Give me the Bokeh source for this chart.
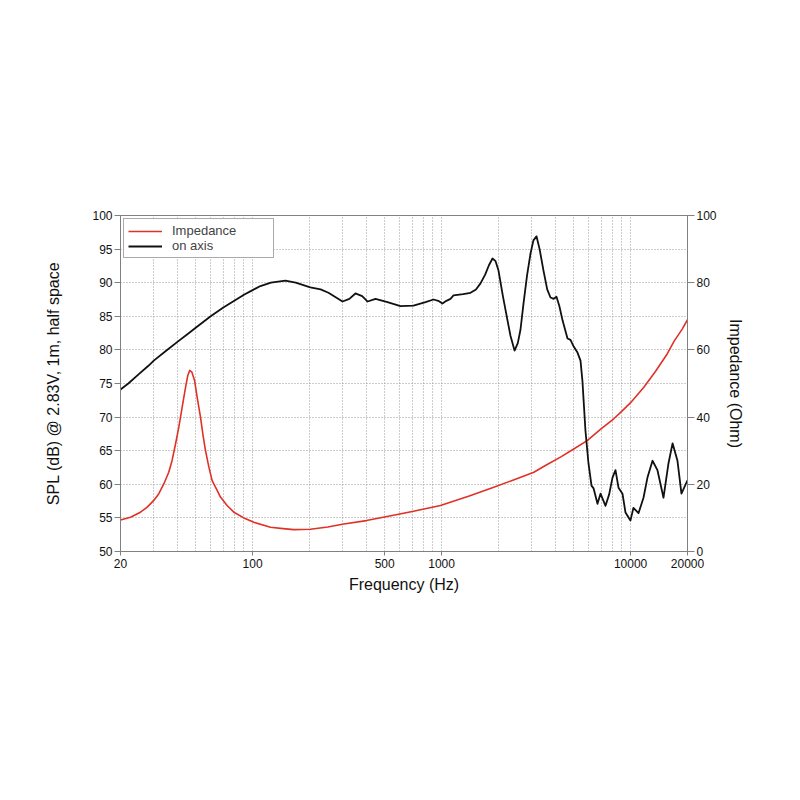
from bokeh.plotting import figure
from bokeh.models import Range1d, LinearAxis, FixedTicker, NumeralTickFormatter, Legend, LegendItem
from bokeh.embed import file_html
from bokeh.resources import INLINE

# ---- data ----
spl_freq = [20, 22, 25, 28, 30, 35, 40, 45, 50, 60, 70, 80, 90, 100, 110, 125, 149, 169, 202, 229, 252,
            299, 325, 350, 380, 406, 447,
            517, 606, 710, 822, 906, 960, 1010, 1060, 1114, 1156, 1300, 1422, 1520, 1606, 1700, 1780, 1859,
            1930, 2000, 2110, 2232, 2314, 2432, 2530, 2614, 2712, 2830, 2952, 3060, 3178, 3300, 3460,
            3620, 3768, 3920, 4054, 4200, 4364, 4636, 4808, 5000, 5236, 5432, 5560, 5768, 5986, 6210,
            6368, 6680, 6932, 7366, 7700, 8020, 8318, 8630, 9058, 9396, 9980, 10352, 11010, 11700,
            12280, 13060, 13870, 14930, 15860, 16670, 17700, 18580, 20000]
spl_db = [74.1, 75.0, 76.4, 77.6, 78.4, 79.9, 81.2, 82.3, 83.3, 85.0, 86.3, 87.3, 88.2, 88.9, 89.5, 90.0, 90.3, 90.0, 89.3, 89.0, 88.5,
          87.2, 87.6, 88.4, 88.0, 87.2, 87.6,
          87.1, 86.5, 86.6, 87.1, 87.5, 87.3, 86.9, 87.3, 87.6, 88.1, 88.3, 88.5, 89.0, 89.9, 91.2, 92.6, 93.6,
          93.2, 91.8, 88.0, 84.4, 82.1, 79.9, 81.0, 83.0, 86.9, 91.0, 94.3, 96.3, 96.9, 95.0, 91.8,
          89.0, 87.8, 87.6, 87.9, 86.5, 84.4, 81.7, 81.5, 80.5, 79.6, 78.4, 75.4, 68.0, 63.1, 59.8,
          59.4, 57.1, 58.6, 56.8, 58.5, 61.0, 62.1, 59.5, 58.6, 55.8, 54.6, 56.5, 55.7, 58.0,
          61.0, 63.5, 62.1, 58.0, 63.1, 66.1, 63.5, 58.6, 60.6]

imp_freq = [20, 22.6, 25.5, 27.7, 30.0, 31.9, 33.9, 36.0, 37.5, 39.1, 40.7, 42.4, 44.2, 45.4, 46.5, 47.7,
            49.3, 50.9, 53.0, 54.7, 56.3, 58.7, 61.1, 64.9, 67.6, 73.3, 79.6, 89.9, 101.5, 124.4,
            145, 165, 202, 250, 304, 400, 515, 700, 986, 1400, 1888, 2400, 3076, 3600, 4256, 5000,
            5892, 7000, 8148, 9000, 10000, 11750, 13500, 15610, 17000, 18750, 20000]
imp_ohm = [9.4, 10.2, 11.7, 13.2, 15.2, 17.2, 20.1, 23.6, 27.1, 32.0, 37.0, 43.0, 48.9, 52.4, 53.9, 53.4,
           50.9, 45.9, 40.0, 34.5, 30.1, 25.1, 21.1, 18.2, 16.2, 13.7, 11.7, 10.0, 8.7, 7.2,
           6.8, 6.5, 6.6, 7.3, 8.2, 9.2, 10.4, 11.9, 13.7, 16.5, 19.1, 21.3, 23.6, 25.8, 28.1, 30.5,
           33.0, 36.6, 39.5, 41.8, 44.3, 48.9, 53.5, 58.8, 62.6, 66.2, 69.0]

x_labels = [20, 100, 500, 1000, 10000, 20000]
x_grid = [30, 40, 50, 60, 70, 80, 90, 200, 300, 400, 600, 700, 800, 900,
          2000, 3000, 4000, 5000, 6000, 7000, 8000, 9000]
spl_ticks = [50, 55, 60, 65, 70, 75, 80, 85, 90, 95, 100]
imp_ticks = [0, 20, 40, 60, 80, 100]

FONT = "Liberation Sans"
AX = "#808080"
GRID = "#9a9a9a"

p = figure(width=790, height=790, x_axis_type="log",
           x_range=Range1d(20, 20000), y_range=Range1d(50, 100),
           output_backend="svg", toolbar_location=None,
           min_border_left=120, min_border_right=103, min_border_top=215, min_border_bottom=239)
p.extra_y_ranges = {"imp": Range1d(0, 100)}
p.outline_line_color = AX
p.outline_line_width = 1

xa = p.xaxis[0]
xa.ticker = FixedTicker(ticks=x_labels, minor_ticks=x_grid)
xa.formatter = NumeralTickFormatter(format="0")
xa.axis_label = "Frequency (Hz)"

ya = p.yaxis[0]
ya.ticker = FixedTicker(ticks=spl_ticks)
ya.axis_label = "SPL (dB) @ 2.83V, 1m, half space"

ra = LinearAxis(y_range_name="imp", ticker=FixedTicker(ticks=imp_ticks), axis_label="Impedance (Ohm)")
p.add_layout(ra, "right")

for ax in [xa, ya, ra]:
    ax.axis_line_color = AX
    ax.major_tick_line_color = AX
    ax.minor_tick_line_color = None
    ax.major_tick_in = 0
    ax.major_label_text_font = FONT
    ax.major_label_text_font_size = "12px"
    ax.major_label_text_color = "#111111"
    ax.axis_label_text_font = FONT
    ax.axis_label_text_font_size = "16px"
    ax.axis_label_text_font_style = "normal"
    ax.axis_label_text_color = "#111111"

xa.major_tick_out = 4
xa.major_label_standoff = 3
xa.axis_label_standoff = 5
ya.major_tick_out = 6
ya.major_label_standoff = 2
ya.axis_label_standoff = 27
ra.major_tick_out = 7
ra.major_label_standoff = 2
ra.axis_label_standoff = 7

p.xgrid.grid_line_color = GRID
p.xgrid.grid_line_dash = "1 2"
p.xgrid.minor_grid_line_color = GRID
p.xgrid.minor_grid_line_dash = "1 2"
p.ygrid.grid_line_color = GRID
p.ygrid.grid_line_dash = "1 2"

r_imp = p.line(imp_freq, imp_ohm, y_range_name="imp", line_color="#e03127", line_width=1.6,
               line_join="round")
r_spl = p.line(spl_freq, spl_db, line_color="#111111", line_width=1.8, line_join="round")

legend = Legend(items=[LegendItem(label="Impedance", renderers=[r_imp]),
                       LegendItem(label="on axis", renderers=[r_spl])],
                location="top_left", margin=3, padding=4, spacing=0,
                glyph_width=34, glyph_height=14, label_height=14, label_width=97,
                label_standoff=10, label_text_font=FONT, label_text_font_size="13px",
                border_line_color="#555555", border_line_width=1,
                background_fill_alpha=1.0)
p.add_layout(legend, "center")

open("out.html", "w").write(file_html(p, INLINE))
